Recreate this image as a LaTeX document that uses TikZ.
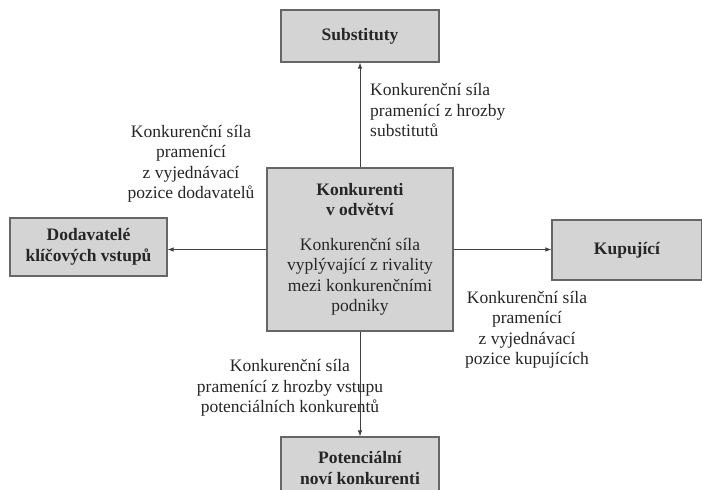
\documentclass[tikz,border=0pt]{standalone}
\usepackage{fontspec}
\setmainfont{Liberation Serif}
\usepackage{tikz}
\usetikzlibrary{arrows.meta,calc,positioning}

\begin{document}
\begin{tikzpicture}[x=1pt,y=-1pt,>={Latex[length=6pt,width=4.5pt]},
  force/.style={draw=black!60,line width=1.2pt,fill=black!17,inner sep=0pt,
    text=black!85,align=center,font=\fontsize{17.5}{20.5}\selectfont\bfseries},
  forcetxt/.style={inner sep=0pt,text=black!85,font=\fontsize{17.5}{20.5}\selectfont},
  link/.style={->,black!75,line width=0.8pt}]
\clip (0,0) rectangle (702,490);
% the five forces
\node[force,minimum width=158pt,minimum height=52pt] (subst) at (360,36) {Substituty};
\node[force,minimum width=186pt,minimum height=163pt,
      font=\fontsize{17.5}{20.5}\selectfont] (rival) at (360,249.5)
  {\textbf{Konkurenti}\\\textbf{v odvětví}\\[14pt]
   Konkurenční síla\\vyplývající z rivality\\mezi konkurenčními\\podniky};
\node[force,minimum width=157pt,minimum height=58pt] (suppl) at (88.5,247)
  {Dodavatelé\\klíčových vstupů};
\node[force,minimum width=150pt,minimum height=60pt] (buyers) at (627,250) {Kupující};
\node[force,minimum width=158pt,minimum height=62pt] (entrants) at (360,468)
  {Potenciální\\noví konkurenti};
% connectors
\draw[link] (rival.north) -- (subst.south);
\draw[link] (rival.west) -- (rival.west -| suppl.east);
\draw[link] (rival.east) -- (rival.east -| buyers.west);
\draw[link] (rival.south) -- (entrants.north);
% labels
\node[forcetxt,align=left,anchor=west] (lsubst) at (370,110)
  {Konkurenční síla\\pramenící z hrozby\\substitutů};
\node[forcetxt,align=center] (lsuppl) at (191,164)
  {Konkurenční síla\\pramenící\\z vyjednávací\\pozice dodavatelů};
\node[forcetxt,align=center] (lentr) at (290,388)
  {Konkurenční síla\\pramenící z hrozby vstupu\\potenciálních konkurentů};
\node[forcetxt,align=center] (lbuyers) at (527,330)
  {Konkurenční síla\\pramenící\\z vyjednávací\\pozice kupujících};
\end{tikzpicture}
\end{document}
